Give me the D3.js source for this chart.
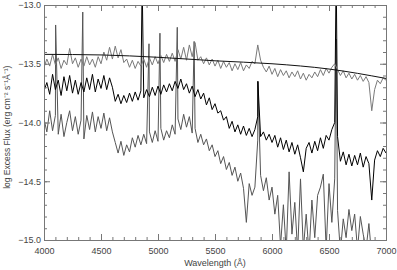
<!DOCTYPE html>
<html>
<head>
<meta charset="utf-8" />
<title>Excess flux</title>
<style>
  body { margin: 0; background: #fff; }
  text { font-family: "Liberation Sans", Arial, sans-serif; fill: #444; }
</style>
</head>
<body>
<div id="chart"></div>
<script src="https://cdn.jsdelivr.net/npm/d3@7/dist/d3.min.js"></script>
<script>
// wavelength grid of the three spectra (Angstrom, 25 A steps)
var waves = d3.range(4000, 7001, 25);

// upper spectrum, close to the continuum
var upperFlux = [
  -13.53,-13.46,-13.52,-13.42,-13.51,-13.45,-13.54,-13.47,-13.51,-13.37,-13.50,-13.45,-13.53,-13.46,-13.52,-13.44,
  -13.51,-13.46,-13.53,-13.44,-13.50,-13.40,-13.47,-13.36,-13.46,
  -13.35,-13.45,-13.38,-13.49,-13.46,-13.53,-13.47,-13.54,-13.48,-13.52,
  -13.46,-13.53,-13.45,-13.51,-13.44,-13.50,-13.43,-13.49,-13.42,-13.48,-13.41,-13.48,-13.38,-13.46,-13.36,-13.47,
  -13.34,-13.44,-13.32,-13.47,-13.44,
  -13.50,-13.45,-13.51,-13.46,-13.52,-13.47,-13.54,-13.48,-13.53,-13.49,-13.56,-13.50,-13.55,-13.49,-13.56,-13.51,
  -13.54,-13.48,-13.50,
  -13.34,-13.47,
  -13.53,-13.57,-13.52,-13.59,-13.54,-13.61,-13.55,-13.60,-13.56,-13.62,-13.57,-13.61,-13.56,-13.63,-13.58,-13.64,
  -13.59,-13.62,-13.57,-13.61,-13.55,-13.60,-13.54,-13.58,-13.53,
  -13.50,-13.55,
  -13.60,-13.56,-13.62,-13.58,-13.63,-13.59,-13.64,-13.60,-13.65,-13.61,-13.66,
  -13.90,-13.72,-13.64,-13.67,-13.62,-13.64
];

// middle spectrum (black)
var middleFlux = [
  -13.73,-13.66,-13.76,-13.59,-13.72,-13.64,-13.77,-13.61,-13.73,-13.60,-13.75,-13.64,-13.76,-13.66,-13.74,-13.62,
  -13.72,-13.59,-13.74,-13.63,-13.71,-13.60,-13.72,-13.62,-13.70,
  -13.82,-13.76,-13.84,-13.77,-13.83,-13.75,-13.82,-13.74,-13.81,-13.73,
  -13.79,-13.72,-13.78,-13.70,-13.77,-13.69,-13.76,-13.68,-13.74,-13.67,-13.73,-13.65,-13.71,-13.63,-13.72,-13.67,
  -13.75,-13.69,-13.78,-13.72,-13.80,
  -13.75,-13.85,-13.79,-13.89,-13.84,-13.92,-13.90,-13.98,-13.95,-14.05,-13.99,-14.08,-14.02,-14.10,-14.03,-14.11,
  -14.05,-14.12,-14.06,
  -13.95,-14.12,
  -14.08,-14.15,-14.10,-14.17,-14.11,-14.21,-14.13,-14.23,-14.15,-14.25,-14.17,-14.27,-14.19,-14.30,-14.42,-14.22,
  -14.17,-14.26,-14.16,-14.24,-14.13,-14.22,-14.11,-14.15,-14.06,
  -14.00,-14.12,
  -14.33,-14.25,-14.36,-14.27,-14.37,-14.28,-14.36,-14.26,-14.38,-14.29,-14.35,
  -14.66,-14.32,-14.24,-14.29,-14.22,-14.26
];

// lower spectrum (dark grey)
var lowerFlux = [
  -13.97,-14.08,-13.90,-14.07,-13.94,-14.10,-13.93,-14.12,-14.00,-13.90,-14.07,-13.95,-14.10,-13.98,-14.14,-13.94,
  -14.06,-13.91,-14.08,-13.95,-14.05,-13.92,-14.07,-13.96,-14.08,
  -14.17,-14.26,-14.16,-14.28,-14.19,-14.25,-14.13,-14.21,-14.11,-14.19,
  -14.10,-14.18,-14.08,-14.17,-14.07,-14.16,-14.05,-14.15,-14.07,-14.13,-14.02,-14.10,-13.97,-14.06,-13.93,-14.04,
  -13.95,-14.09,-14.05,-14.17,-14.10,
  -14.19,-14.14,-14.24,-14.19,-14.29,-14.24,-14.35,-14.29,-14.40,-14.34,-14.45,-14.38,-14.50,-14.43,-14.56,-14.85,
  -14.52,-14.62,-14.55,
  -14.15,-14.45,
  -14.58,-14.47,-14.66,-14.55,-14.78,-14.62,-15.05,-14.70,-15.10,-14.42,-14.95,-14.68,-15.10,-14.48,-15.08,-14.78,
  -15.12,-14.66,-14.98,-14.62,-14.55,-14.44,-15.08,-14.52,-14.85,
  -14.48,-14.75,
  -15.10,-14.82,-14.98,-14.74,-14.92,-14.78,-15.08,-14.80,-14.95,-15.08,-14.86,
  -15.15,-15.20,-15.25,-15.30,-15.30,-15.35
];

// emission line peaks [wavelength, log flux]
var middleLines = [[4861, -12.8], [5876, -13.65], [6563, -12.7]];
var lowerLines = [[4102, -13.17], [4340, -13.06], [4921, -13.33], [5017, -13.24],
                  [5169, -13.19], [5317, -13.31], [5876, -13.65], [6563, -13.29]];

// fitted continuum
var contWave = [4000, 4500, 5000, 5500, 6000, 6500, 7000];
var contFlux = [-13.42, -13.425, -13.445, -13.475, -13.50, -13.545, -13.625];

var xTicks = [4000, 4500, 5000, 5500, 6000, 6500, 7000];
var yTicks = [-15.0, -14.5, -14.0, -13.5, -13.0];

var W = 397, H = 270;
var margin = {top: 5, right: 11, bottom: 30, left: 44};

var svg = d3.select("#chart").append("svg")
    .attr("width", W)
    .attr("height", H);

var x = d3.scaleLinear().domain([4000, 7000]).range([margin.left, W - margin.right]);
var y = d3.scaleLinear().domain([-15, -13]).range([H - margin.bottom, margin.top]);

svg.append("defs").append("clipPath")
    .attr("id", "plotclip")
  .append("rect")
    .attr("x", x(4000))
    .attr("y", y(-13))
    .attr("width", x(7000) - x(4000))
    .attr("height", y(-15) - y(-13));

function series(flux, lines) {
  var pts = waves.map(function (w, i) { return [w, flux[i]]; });
  (lines || []).forEach(function (l) { pts.push(l); });
  pts.sort(function (a, b) { return a[0] - b[0]; });
  return pts;
}

var line = d3.line()
    .x(function (d) { return x(d[0]); })
    .y(function (d) { return y(d[1]); });

var plot = svg.append("g").attr("clip-path", "url(#plotclip)");

plot.append("path")
    .attr("d", line(series(lowerFlux, lowerLines)))
    .attr("fill", "none")
    .attr("stroke", "#555")
    .attr("stroke-width", 1);

plot.append("path")
    .attr("d", line(series(middleFlux, middleLines)))
    .attr("fill", "none")
    .attr("stroke", "#000")
    .attr("stroke-width", 1);

plot.append("path")
    .attr("d", line(series(upperFlux)))
    .attr("fill", "none")
    .attr("stroke", "#7a7a7a")
    .attr("stroke-width", 1);

plot.append("path")
    .attr("d", d3.line().curve(d3.curveMonotoneX)
        .x(function (d, i) { return x(contWave[i]); })
        .y(function (d) { return y(d); })(contFlux))
    .attr("fill", "none")
    .attr("stroke", "#111")
    .attr("stroke-width", 1);

// axes, ticks inward on all four sides
var axisColor = "#777";
var fmt = function (d) { return d3.format(".1f")(d).replace("-", "\u2212"); };

function styleAxis(g) {
  g.select(".domain").attr("stroke", axisColor);
  g.selectAll(".tick line").attr("stroke", axisColor);
  g.selectAll(".tick text").attr("fill", "#444").style("font-size", "9px")
      .style("font-family", "Liberation Sans, Arial, sans-serif");
}

var xMinor = d3.range(4000, 7001, 100);
var yMinor = d3.range(-15, -12.95, 0.1);

// bottom
svg.append("g").attr("transform", "translate(0," + y(-15) + ")")
    .call(d3.axisTop(x).tickValues(xMinor).tickSize(3).tickFormat(""))
    .call(styleAxis);
svg.append("g").attr("transform", "translate(0," + y(-15) + ")")
    .call(d3.axisTop(x).tickValues(xTicks).tickSize(6).tickFormat(""))
    .call(styleAxis);
svg.append("g").attr("transform", "translate(0," + y(-15) + ")")
    .call(d3.axisBottom(x).tickValues(xTicks).tickSize(0).tickPadding(8).tickFormat(d3.format("d")))
    .call(styleAxis);
// top
svg.append("g").attr("transform", "translate(0," + y(-13) + ")")
    .call(d3.axisBottom(x).tickValues(xMinor).tickSize(3).tickFormat(""))
    .call(styleAxis);
svg.append("g").attr("transform", "translate(0," + y(-13) + ")")
    .call(d3.axisBottom(x).tickValues(xTicks).tickSize(6).tickFormat(""))
    .call(styleAxis);
// left
svg.append("g").attr("transform", "translate(" + x(4000) + ",0)")
    .call(d3.axisRight(y).tickValues(yMinor).tickSize(3).tickFormat(""))
    .call(styleAxis);
svg.append("g").attr("transform", "translate(" + x(4000) + ",0)")
    .call(d3.axisRight(y).tickValues(yTicks).tickSize(6).tickFormat(""))
    .call(styleAxis);
svg.append("g").attr("transform", "translate(" + x(4000) + ",0)")
    .call(d3.axisLeft(y).tickValues(yTicks).tickSize(0).tickPadding(3).tickFormat(fmt))
    .call(styleAxis);
// right
svg.append("g").attr("transform", "translate(" + x(7000) + ",0)")
    .call(d3.axisLeft(y).tickValues(yMinor).tickSize(3).tickFormat(""))
    .call(styleAxis);
svg.append("g").attr("transform", "translate(" + x(7000) + ",0)")
    .call(d3.axisLeft(y).tickValues(yTicks).tickSize(6).tickFormat(""))
    .call(styleAxis);

// axis titles
svg.append("text")
    .attr("x", (x(4000) + x(7000)) / 2)
    .attr("y", 266)
    .attr("text-anchor", "middle")
    .style("font-size", "9px")
    .text("Wavelength (\u00c5)");

svg.append("text")
    .attr("transform", "translate(10," + y(-14.04) + ") rotate(-90)")
    .attr("text-anchor", "middle")
    .style("font-size", "8.5px")
    .text("log  Excess Flux (erg cm\u207b\u00b2 s\u207b\u00b9\u00c5\u207b\u00b9)");
</script>
</body>
</html>
